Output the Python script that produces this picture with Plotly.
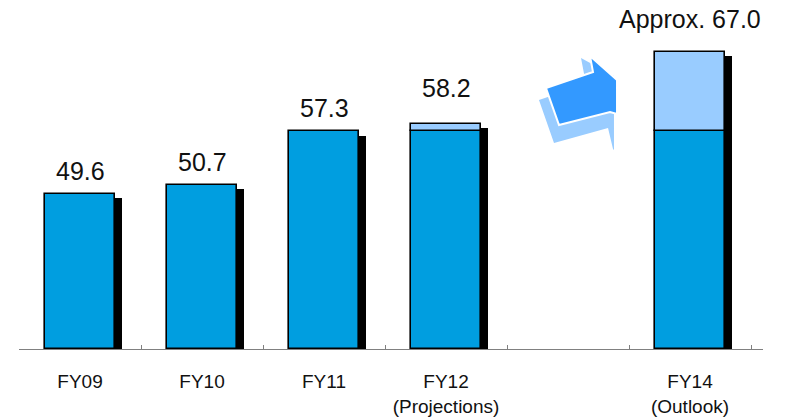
import plotly.graph_objects as go

# Fiscal-year data
categories = ["FY09", "FY10", "FY11", "FY12<br>(Projections)", " ", "FY14<br>(Outlook)"]
base_values = [49.6, 50.7, 57.3, 57.3, None, 57.3]      # solid segment
total_values = [49.6, 50.7, 57.3, 58.2, None, 67.0]     # bar top incl. upper segment
value_labels = ["49.6", "50.7", "57.3", "58.2", "", "Approx. 67.0"]

# Layout constants
W, H = 791, 419
M_L, M_R, M_T, M_B = 19, 28, 10, 70
Y_MIN = 30.6
PX_PER_UNIT = 8.16
plot_h = H - M_T - M_B
Y_MAX = Y_MIN + plot_h / PX_PER_UNIT

BAR_W = 0.58
SHADOW_DX = 7 / 124            # shadow shift in category units
SHADOW_DY = 4.5 / PX_PER_UNIT  # shadow drop in value units

DARK = "#009EE0"
LIGHT = "#99CCFF"
FONT = "Liberation Sans, Arial, sans-serif"

fig = go.Figure()

# drop shadows
shadow_y = [None if t is None else t - SHADOW_DY - Y_MIN for t in total_values]
fig.add_trace(go.Bar(
    x=categories, y=shadow_y, base=Y_MIN, width=BAR_W, offset=-BAR_W / 2 + SHADOW_DX,
    marker=dict(color="black", line=dict(width=0)), hoverinfo="skip", showlegend=False,
))

# solid lower segment
fig.add_trace(go.Bar(
    x=categories, y=[None if b is None else b - Y_MIN for b in base_values], base=Y_MIN,
    width=BAR_W, offset=-BAR_W / 2,
    marker=dict(color=DARK, line=dict(color="black", width=1.6)), showlegend=False,
))

# lighter upper segment (increase over the FY11 level)
inc = [None if (t is None or b is None or t == b) else t - b for t, b in zip(total_values, base_values)]
fig.add_trace(go.Bar(
    x=categories, y=inc, base=base_values, width=BAR_W, offset=-BAR_W / 2,
    marker=dict(color=LIGHT, line=dict(color="black", width=1.6)), showlegend=False,
))

# value labels
for cat, tot, lab, b in zip(categories, total_values, value_labels, base_values):
    if tot is None:
        continue
    shift = 7 if tot == b else (20 if tot - b < 2 else 17)
    fig.add_annotation(x=cat, y=tot, text=lab, showarrow=False, yanchor="bottom",
                       yshift=shift, font=dict(size=25, color="#111111", family=FONT))

# decorative block arrow between FY12 and FY14
def px_path(points):
    pw = W - M_L - M_R
    coords = [((x - M_L) / pw, 1 - (y - M_T) / plot_h) for x, y in points]
    return "M " + " L ".join(f"{x:.4f},{y:.4f}" for x, y in coords) + " Z"

arrow_back = [(539, 100), (586, 84), (581, 58), (614, 76), (614, 150), (613, 149), (608, 128), (554, 143)]
arrow_front = [(546, 88), (593, 72), (590, 56), (617, 80), (617, 114), (610, 112), (559, 125)]
fig.add_shape(type="path", xref="paper", yref="paper", path=px_path(arrow_back),
              fillcolor=LIGHT, line=dict(width=0), layer="above")
fig.add_shape(type="path", xref="paper", yref="paper", path=px_path(arrow_front),
              fillcolor="#3399FF", line=dict(color="white", width=2), layer="above")

fig.update_layout(
    width=W, height=H, margin=dict(l=M_L, r=M_R, t=M_T, b=M_B, autoexpand=False),
    plot_bgcolor="white", paper_bgcolor="white", barmode="overlay", bargap=0,
    font=dict(family=FONT, color="#111111"),
)
fig.update_xaxes(
    type="category", categoryorder="array", categoryarray=categories,
    tickson="boundaries", ticks="inside", ticklen=4, tickcolor="#808080", tickwidth=1,
    showline=True, linecolor="#808080", linewidth=1.2, showgrid=False,
    tickfont=dict(size=19, family=FONT, color="#111111"), layer="below traces",
    tickangle=0, automargin=False, ticklabelstandoff=15, fixedrange=True,
)
fig.update_yaxes(range=[Y_MIN, Y_MAX], visible=False, showgrid=False, fixedrange=True,
                 automargin=False)

fig.write_html("out.html")
